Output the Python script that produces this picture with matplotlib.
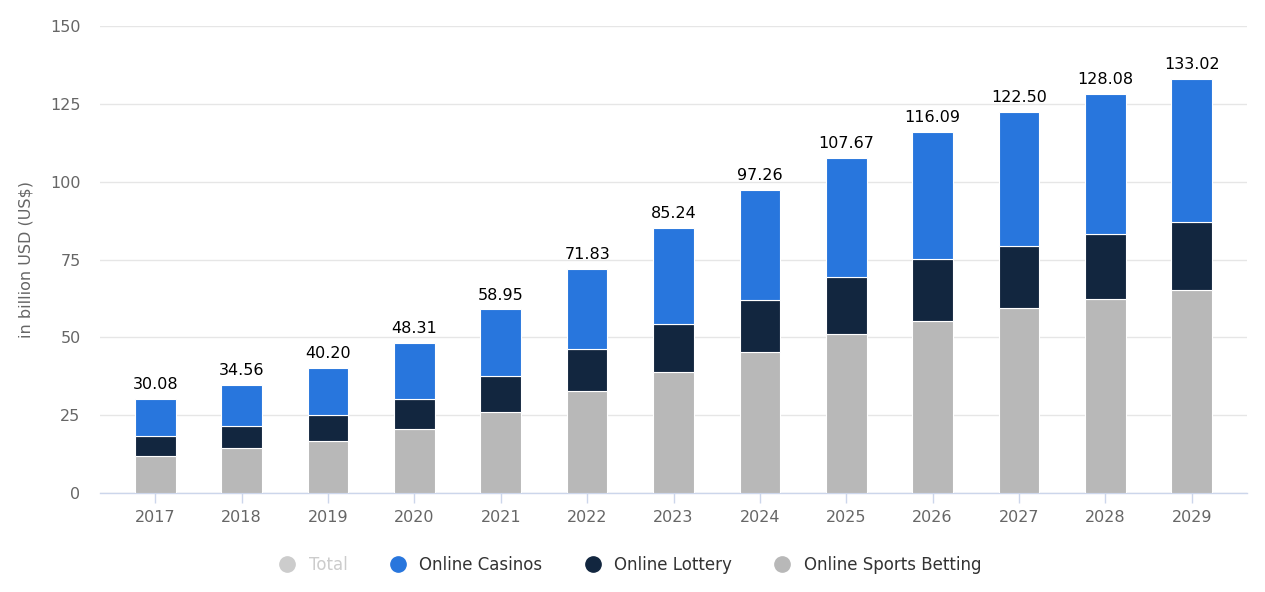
import matplotlib
matplotlib.use("Agg")
import matplotlib.pyplot as plt
from matplotlib.lines import Line2D
import numpy as np

years = ["2017", "2018", "2019", "2020", "2021", "2022", "2023", "2024", "2025", "2026", "2027", "2028", "2029"]
totals = [30.08, 34.56, 40.20, 48.31, 58.95, 71.83, 85.24, 97.26, 107.67, 116.09, 122.50, 128.08, 133.02]
sports_betting = [12.0, 14.5, 16.8, 20.7, 25.9, 32.8, 39.0, 45.4, 51.2, 55.3, 59.3, 62.2, 65.1]
lottery_cum = [18.4, 21.6, 25.1, 30.3, 37.5, 46.3, 54.4, 62.1, 69.4, 75.2, 79.4, 83.3, 87.2]
lottery = [round(l - s, 2) for l, s in zip(lottery_cum, sports_betting)]
casinos = [round(t - l, 2) for t, l in zip(totals, lottery_cum)]
y_ticks = [0, 25, 50, 75, 100, 125, 150]

c_casino = "#2876dd"
c_lottery = "#12263f"
c_sports = "#b8b8b8"

plt.rcParams['font.family'] = ['DejaVu Sans']
fig = plt.figure(figsize=(12.65, 5.92), dpi=100)
ax = fig.add_axes([100/1265, 1-493/592, (1247-100)/1265, (493-26)/592])

x = np.arange(len(years))
w = 0.47
ax.bar(x, sports_betting, w, color=c_sports, edgecolor="white", linewidth=0.8, zorder=3)
ax.bar(x, lottery, w, bottom=sports_betting, color=c_lottery, edgecolor="white", linewidth=0.8, zorder=3)
ax.bar(x, casinos, w, bottom=lottery_cum, color=c_casino, edgecolor="white", linewidth=0.8, zorder=3)

for xi, t in zip(x, totals):
    ax.annotate(f"{t:.2f}", (xi, t), xytext=(0, 5), textcoords="offset points",
                ha="center", va="bottom", fontsize=11.5, color="#000000")

ax.set_xlim(-0.64, len(years) - 1 + 0.64)
ax.set_ylim(0, 150)
ax.set_yticks(y_ticks)
ax.set_yticklabels([str(v) for v in y_ticks])
ax.set_xticks(x)
ax.set_xticklabels(years)

ax.grid(axis="y", color="#e6e6e6", linewidth=1, zorder=0)
for s in ["top", "right", "left"]:
    ax.spines[s].set_visible(False)
ax.spines["bottom"].set_color("#ccd6eb")
ax.spines["bottom"].set_linewidth(1)

ax.tick_params(axis="y", length=0, pad=14, labelsize=11.5, labelcolor="#666666")
ax.tick_params(axis="x", which="major", length=7, color="#ccd6eb", width=1, pad=5,
               labelsize=11.5, labelcolor="#666666")

ax.set_ylabel("in billion USD (US$)", fontsize=11.5, color="#666666")
ax.yaxis.set_label_coords(-0.058, 0.5)

handles = [
    Line2D([], [], marker="o", linestyle="none", markersize=11, markerfacecolor="#cccccc", markeredgecolor="#cccccc"),
    Line2D([], [], marker="o", linestyle="none", markersize=11, markerfacecolor=c_casino, markeredgecolor=c_casino),
    Line2D([], [], marker="o", linestyle="none", markersize=11, markerfacecolor=c_lottery, markeredgecolor=c_lottery),
    Line2D([], [], marker="o", linestyle="none", markersize=11, markerfacecolor=c_sports, markeredgecolor=c_sports),
]
labels = ["Total", "Online Casinos", "Online Lottery", "Online Sports Betting"]
leg = fig.legend(handles, labels, loc="center", bbox_to_anchor=(626/1265, 1-565/592), ncol=4,
                 frameon=False, fontsize=12, handletextpad=0.3, columnspacing=2.0)
for i, txt in enumerate(leg.get_texts()):
    txt.set_color("#cccccc" if i == 0 else "#333333")

fig.savefig("out.png", dpi=100, facecolor="white")
